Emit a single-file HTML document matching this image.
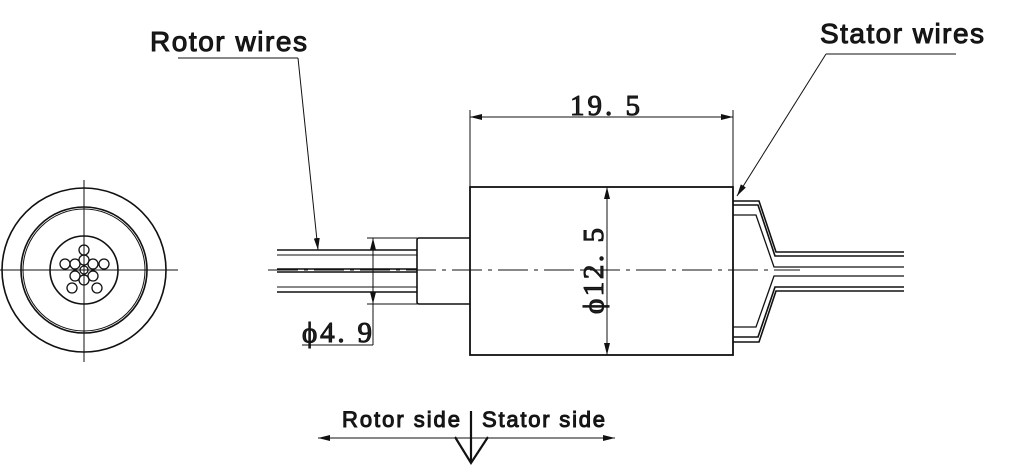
<!DOCTYPE html>
<html><head><style>
html,body{margin:0;padding:0;background:#fff;width:1034px;height:476px;overflow:hidden}
svg{display:block}
.s{font-family:"Liberation Sans",Arial,sans-serif;fill:#1a1a1a}
.r{font-family:"Liberation Serif",serif;fill:#222}
</style></head><body>
<svg width="1034" height="476" viewBox="0 0 1034 476" xmlns="http://www.w3.org/2000/svg">
<defs>
<marker id="a" viewBox="0 0 12 6" refX="12" refY="3" markerWidth="12" markerHeight="6" markerUnits="userSpaceOnUse" orient="auto-start-reverse"><path d="M0,0 L12,3 L0,6 Z" fill="#111"/></marker>
</defs>
<g fill="none" stroke="#111">
<circle cx="84" cy="270" r="82" stroke-width="1.6"/>
<circle cx="84" cy="270" r="63" stroke-width="1.6"/>
<circle cx="84" cy="270" r="61" stroke-width="1"/>
<circle cx="84" cy="270" r="34" stroke-width="1.6"/>
<line x1="0" y1="270" x2="178" y2="270" stroke-width="1"/>
<line x1="84" y1="180" x2="84" y2="362" stroke-width="1"/>
<g stroke-width="1.3">
<circle cx="84" cy="250" r="5"/><circle cx="84" cy="260" r="5"/>
<circle cx="75" cy="264" r="5"/><circle cx="93" cy="264" r="5"/>
<circle cx="75" cy="276" r="5"/><circle cx="93" cy="276" r="5"/>
<circle cx="84" cy="280" r="5"/><circle cx="84" cy="270" r="4"/>
<circle cx="65" cy="264" r="5"/><circle cx="104" cy="264" r="5"/>
<circle cx="72" cy="288" r="5"/><circle cx="97" cy="288" r="5"/>
</g>
<g stroke-width="1.6">
<line x1="277" y1="250" x2="417" y2="250"/><line x1="277" y1="255" x2="417" y2="255" stroke-width="1"/>
<line x1="277" y1="269" x2="417" y2="269"/><line x1="277" y1="272" x2="417" y2="272"/>
<line x1="277" y1="287" x2="417" y2="287" stroke-width="1"/><line x1="277" y1="292" x2="417" y2="292"/>
</g>
<line x1="268" y1="270" x2="800" y2="270" stroke-width="1" stroke-dasharray="30,6,4,6"/>
<path d="M470,238 H419 Q417,238 417,240 V302 Q417,304 419,304 H470" stroke-width="1.6"/>
<rect x="470" y="187" width="263" height="168" stroke-width="1.8"/>
<g stroke-width="1.6">
<path d="M733,201 H759 L776,252 H904"/>
<path d="M733,205 H758 L775,256 H904"/>
<path d="M733,215 H756 L774,267 H904" stroke-width="1.3"/>
<path d="M733,327 H756 L774,276 H904" stroke-width="1.3"/>
<path d="M733,337 H758 L775,287 H904"/>
<path d="M733,342 H759 L776,291 H904"/>
</g>
<g stroke-width="1">
<line x1="367" y1="238" x2="417" y2="238"/><line x1="367" y1="304" x2="417" y2="304"/>
<line x1="373" y1="238" x2="373" y2="345" marker-start="url(#a)"/>
<line x1="373" y1="270" x2="373" y2="304" marker-end="url(#a)"/>
<line x1="302" y1="345" x2="373" y2="345"/>
<line x1="470" y1="110" x2="470" y2="187"/><line x1="733" y1="110" x2="733" y2="187"/>
<line x1="470" y1="117" x2="733" y2="117" marker-start="url(#a)" marker-end="url(#a)"/>
<line x1="607" y1="187" x2="607" y2="355" marker-start="url(#a)" marker-end="url(#a)"/>
<line x1="178" y1="58" x2="298" y2="58"/>
<line x1="298" y1="58" x2="318" y2="250" marker-end="url(#a)"/>
<line x1="826" y1="54" x2="956" y2="54"/>
<line x1="826" y1="54" x2="737" y2="196" marker-end="url(#a)"/>
<line x1="318" y1="438" x2="615" y2="438" marker-start="url(#a)" marker-end="url(#a)"/>
</g>
<line x1="471" y1="411" x2="471" y2="462" stroke="#111" stroke-width="2.2"/>
<path d="M455,437 L471,463 L488,437" fill="none" stroke="#111" stroke-width="2.2"/>
<text class="s" x="150" y="51" font-size="28" textLength="157" lengthAdjust="spacing">Rotor wires</text>
<text class="s" x="820" y="43" font-size="28" textLength="164" lengthAdjust="spacing">Stator wires</text>
<text class="s" x="342" y="427" font-size="22" textLength="118" lengthAdjust="spacing">Rotor side</text>
<text class="s" x="482" y="427" font-size="22" textLength="123" lengthAdjust="spacing">Stator side</text>
<text class="r" x="570" y="115" font-size="29" textLength="70" lengthAdjust="spacing">19. 5</text>
<text class="r" x="302" y="342" font-size="29" textLength="70" lengthAdjust="spacing">ϕ4. 9</text>
<text class="r" font-size="29" textLength="86" lengthAdjust="spacing" transform="translate(603,314) rotate(-90)">ϕ12. 5</text>
</svg>
</body></html>
